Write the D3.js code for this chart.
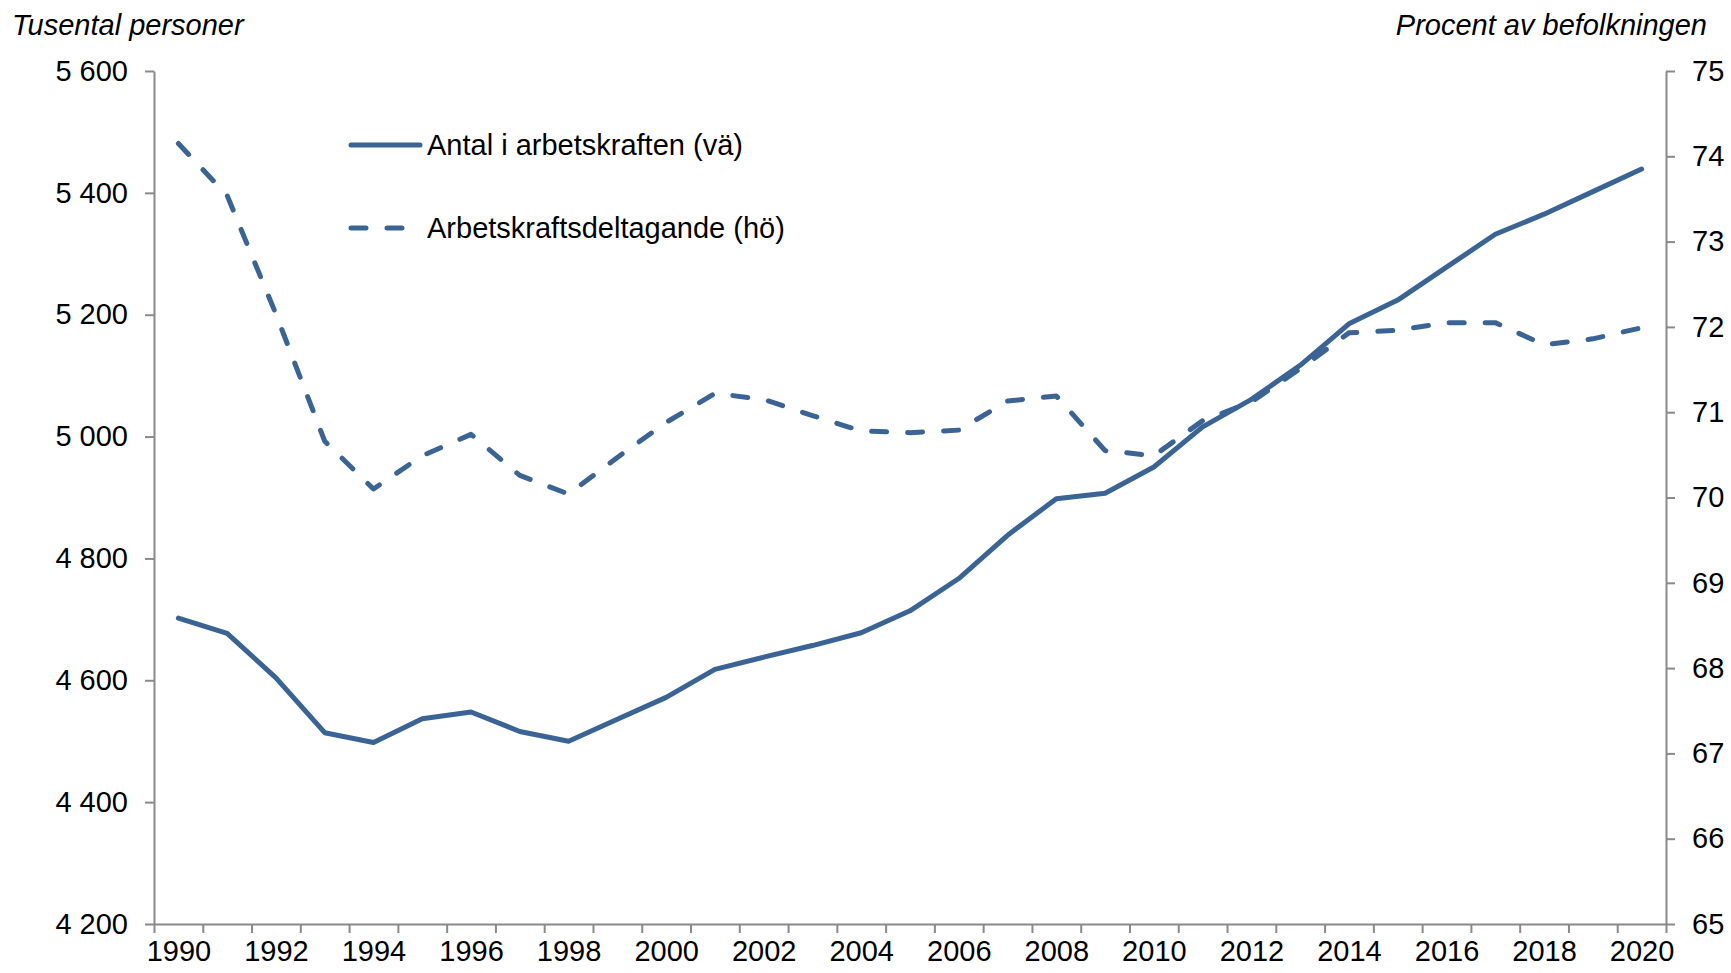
<!DOCTYPE html>
<html>
<head>
<meta charset="utf-8">
<script src="https://cdn.jsdelivr.net/npm/d3@7"></script>
<style>
	body { margin: 0; background: #fff; }
	svg { display: block; font-family: "Liberation Sans", Arial, sans-serif; }
</style>
</head>
<body>
<div id="chart"></div>
<script>
const years = [1990, 1991, 1992, 1993, 1994, 1995, 1996, 1997, 1998, 1999, 2000,
	2001, 2002, 2003, 2004, 2005, 2006, 2007, 2008, 2009, 2010,
	2011, 2012, 2013, 2014, 2015, 2016, 2017, 2018, 2019, 2020];
// tusental personer, left axis
const labourForce = [4702, 4677, 4604, 4514, 4498, 4537, 4548, 4516, 4500, 4536, 4572,
	4618, 4638, 4657, 4678, 4714, 4767, 4838, 4898, 4907, 4950,
	5016, 5061, 5117, 5185, 5224, 5278, 5332, 5365, 5402, 5439];
// procent av befolkningen, right axis
const participation = [74.15, 73.54, 72.15, 70.66, 70.10, 70.49, 70.74, 70.26, 70.04, 70.47, 70.88,
	71.22, 71.15, 70.96, 70.78, 70.76, 70.79, 71.13, 71.19, 70.55, 70.49,
	70.90, 71.12, 71.51, 71.93, 71.96, 72.05, 72.05, 71.79, 71.86, 71.99];
const leftTicks = [4200, 4400, 4600, 4800, 5000, 5200, 5400, 5600];
const rightTicks = [65, 66, 67, 68, 69, 70, 71, 72, 73, 74, 75];
const yearLabels = [1990, 1992, 1994, 1996, 1998, 2000, 2002, 2004, 2006, 2008, 2010,
	2012, 2014, 2016, 2018, 2020];
const legendNames = ["Antal i arbetskraften (vä)", "Arbetskraftsdeltagande (hö)"];

const width = 1731;
const height = 973;
const plotLeft = 154, plotRight = 1666, plotTop = 71, plotBottom = 924;
const blue = "#3a6396";
const axisGrey = "#8a8a8a";
const fontSize = 29;
const lineWidth = 5;

const svg = d3.select("#chart")
	.append("svg")
	.attr("width", width)
	.attr("height", height);

const x = d3.scaleLinear()
	.domain([years[0] - 0.5, years[years.length - 1] + 0.5])
	.range([plotLeft, plotRight]);
const yLeft = d3.scaleLinear().domain([4200, 5600]).range([plotBottom, plotTop]);
const yRight = d3.scaleLinear().domain([65, 75]).range([plotBottom, plotTop]);

const spaceFormat = d3.formatLocale({ decimal: ",", thousands: " ", grouping: [3], currency: ["", ""] }).format(",");

function styleAxis(g) {
	g.selectAll("path, line").attr("stroke", axisGrey).attr("stroke-width", 2);
	g.selectAll("text").attr("fill", "#000").style("font-size", fontSize + "px");
}

// left axis
svg.append("g")
	.attr("transform", `translate(${plotLeft},0)`)
	.call(d3.axisLeft(yLeft).tickValues(leftTicks).tickSize(9).tickSizeOuter(0).tickPadding(17).tickFormat(spaceFormat))
	.call(styleAxis);

// right axis
svg.append("g")
	.attr("transform", `translate(${plotRight},0)`)
	.call(d3.axisRight(yRight).tickValues(rightTicks).tickSize(9).tickSizeOuter(0).tickPadding(17))
	.call(styleAxis);

// x axis ticks between years
const boundaries = years.map(y => y - 0.5).concat([years[years.length - 1] + 0.5]);
svg.append("g")
	.attr("transform", `translate(0,${plotBottom})`)
	.call(d3.axisBottom(x).tickValues(boundaries).tickSize(9).tickSizeOuter(0).tickFormat(""))
	.call(styleAxis);

// x labels every other year
svg.append("g")
	.attr("transform", `translate(0,${plotBottom})`)
	.call(d3.axisBottom(x).tickValues(yearLabels).tickSize(0).tickPadding(16).tickFormat(d3.format("d")))
	.call(styleAxis)
	.call(g => g.select(".domain").remove());

// lines
const lineLeft = d3.line()
	.x((d, i) => x(years[i]))
	.y(d => yLeft(d));
const lineRight = d3.line()
	.x((d, i) => x(years[i]))
	.y(d => yRight(d));

svg.append("path")
	.datum(participation)
	.attr("fill", "none")
	.attr("stroke", blue)
	.attr("stroke-width", lineWidth)
	.attr("stroke-linecap", "round")
	.attr("stroke-linejoin", "round")
	.attr("stroke-dasharray", "15 21")
	.attr("d", lineRight);

svg.append("path")
	.datum(labourForce)
	.attr("fill", "none")
	.attr("stroke", blue)
	.attr("stroke-width", lineWidth)
	.attr("stroke-linecap", "round")
	.attr("stroke-linejoin", "round")
	.attr("d", lineLeft);

// titles
svg.append("text")
	.attr("x", 12)
	.attr("y", 35)
	.style("font-size", fontSize + "px")
	.style("font-style", "italic")
	.text("Tusental personer");
svg.append("text")
	.attr("x", 1707)
	.attr("y", 35)
	.attr("text-anchor", "end")
	.style("font-size", fontSize + "px")
	.style("font-style", "italic")
	.text("Procent av befolkningen");

// legend
const legend = svg.append("g");
legendNames.forEach((name, i) => {
	const ly = 145 + i * 83;
	legend.append("line")
		.attr("x1", 351).attr("x2", 420)
		.attr("y1", ly).attr("y2", ly)
		.attr("stroke", blue)
		.attr("stroke-width", lineWidth)
		.attr("stroke-linecap", "round")
		.attr("stroke-dasharray", i === 1 ? "15 21" : null);
	legend.append("text")
		.attr("x", 427)
		.attr("y", ly)
		.attr("dy", "0.35em")
		.style("font-size", fontSize + "px")
		.text(name);
});
</script>
</body>
</html>
